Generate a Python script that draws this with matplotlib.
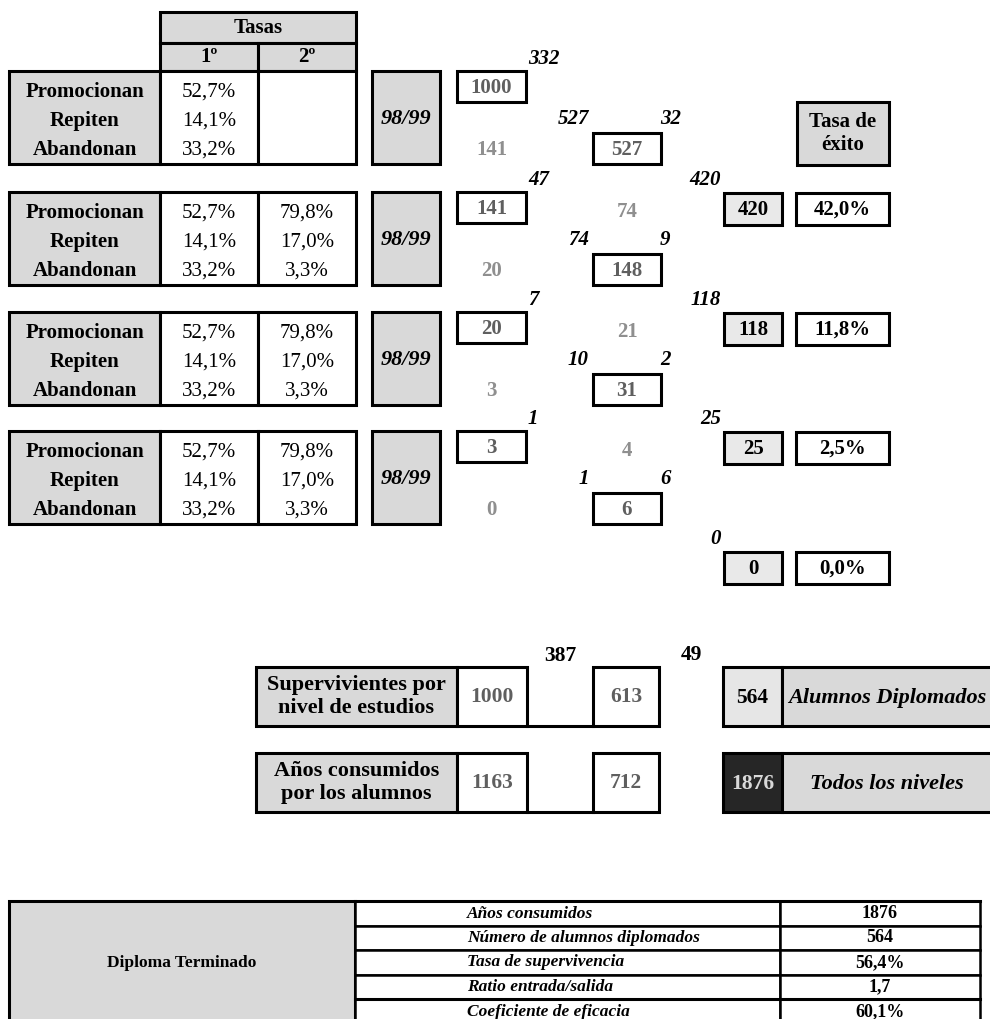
import matplotlib.pyplot as plt
from matplotlib.patches import Rectangle

plt.rcParams['font.family'] = ['Liberation Serif', 'DejaVu Serif']

# tasas por curso
rate_labels = ['Promocionan', 'Repiten', 'Abandonan']
rate_1 = ['52,7%', '14,1%', '33,2%']
rate_2 = ['79,8%', '17,0%', '3,3%']
cohort = '98/99'

# flujo de alumnos por bloque
box_a = [1000, 141, 20, 3]
grey_a = [141, 20, 3, 0]
box_b = [527, 148, 31, 6]
grey_b = [None, 74, 21, 4]
flow_top = [332, 47, 7, 1]
flow_mid_left = [527, 74, 10, 1]
flow_mid_right = [32, 9, 2, 6]
graduates = [420, 118, 25, 0]
success = ['42,0%', '11,8%', '2,5%', '0,0%']

# resumen
survivors = [1000, 613]
dropouts = [387, 49]
years_used = [1163, 712]
total_grad = 564
total_years = 1876
summary_labels = ['Años consumidos', 'Número de alumnos diplomados', 'Tasa de supervivencia',
                  'Ratio entrada/salida', 'Coeficiente de eficacia']
summary_values = ['1876', '564', '56,4%', '1,7', '60,1%']

GREY = '#d9d9d9'
LIGHT = '#e9e9e9'
DARKTXT = '#5f5f5f'
SOFTTXT = '#8f8f8f'
LW = 2.2
FS = 15

fig = plt.figure(figsize=(9.9, 10.19), dpi=100)
ax = fig.add_axes([0, 0, 1, 1])
ax.set_xlim(0, 990)
ax.set_ylim(1019, 0)
ax.axis('off')


def box(x0, y0, x1, y1, fc='white', lw=LW):
    ax.add_patch(Rectangle((x0, y0), x1 - x0, y1 - y0, fc=fc, ec='black', lw=lw))


def txt(x, y, s, size=FS, weight='bold', style='normal', color='black', ha='center', **kw):
    ax.text(x, y, s, fontsize=size, fontweight=weight, fontstyle=style, color=color,
            ha=ha, va='center', **kw)


# cabecera Tasas
box(160, 12, 356, 43, GREY)
box(160, 43, 258, 71, GREY)
box(258, 43, 356, 71, GREY)
txt(258, 28, 'Tasas')
txt(209, 57, '1º')
txt(307, 57, '2º')

tops = [71, 192, 312, 431, 551]
ah = 93

for i in range(4):
    T = tops[i]
    box(9, T, 160, T + ah, GREY)
    box(160, T, 258, T + ah)
    box(258, T, 356, T + ah)
    for r in range(3):
        y = T + 21 + 29 * r
        txt(84.5, y, rate_labels[r])
        txt(209, y, rate_1[r], weight='normal')
        if i > 0:
            txt(307, y, rate_2[r], weight='normal')

    box(372, T, 440, T + ah, GREY)
    txt(406, T + 48, cohort, size=16, style='italic')

    box(457, T, 526, T + 31)
    txt(491.5, T + 17, str(box_a[i]), color=DARKTXT)
    txt(491.5, T + 79, str(grey_a[i]), color=SOFTTXT)

    box(593, T + 62, 661, T + 93)
    txt(627, T + 79, str(box_b[i]), color=DARKTXT)
    if grey_b[i] is not None:
        txt(627, T + 20, str(grey_b[i]), color=SOFTTXT)

    txt(528, T - 12, str(flow_top[i]), style='italic', ha='left')
    txt(589, T + 48, str(flow_mid_left[i]), style='italic', ha='right')
    txt(660, T + 48, str(flow_mid_right[i]), style='italic', ha='left')

for i in range(4):
    T = tops[i + 1]
    txt(721, T - 12, str(graduates[i]), style='italic', ha='right')
    box(724, T + 1, 782, T + 33, LIGHT)
    txt(753, T + 18, str(graduates[i]))
    box(796, T + 1, 889, T + 33)
    txt(842.5, T + 18, success[i])

box(797, 102, 889, 165, GREY)
txt(843, 133, 'Tasa de\néxito', linespacing=1.2)

# supervivientes y años consumidos
rows_y = [(667, 726), (753, 812)]
row_labels = ['Supervivientes por\nnivel de estudios', 'Años consumidos\npor los alumnos']
row_vals = [survivors, years_used]
for k in range(2):
    y0, y1 = rows_y[k]
    yc = (y0 + y1) / 2
    box(256, y0, 457, y1, GREY)
    box(457, y0, 527, y1)
    ax.plot([527, 593], [y1, y1], color='black', lw=LW)
    box(593, y0, 659, y1)
    txt(356.5, yc, row_labels[k], size=16, linespacing=1.25)
    txt(492, yc + 1, str(row_vals[k][0]), size=15.5, color=DARKTXT)
    txt(626, yc + 1, str(row_vals[k][1]), size=15.5, color=DARKTXT)

txt(560, 656, str(dropouts[0]), size=15.5)
txt(691, 655, str(dropouts[1]), size=15.5)

box(723, 667, 782, 726, '#e6e6e6')
box(782, 667, 1000, 726, GREY)
txt(752.5, 698, str(total_grad), size=15.5)
txt(887, 698, 'Alumnos Diplomados', size=16, style='italic')

box(723, 753, 782, 812, '#262626')
box(782, 753, 1000, 812, GREY)
txt(752.5, 784, str(total_years), size=15.5, color=GREY)
txt(887, 784, 'Todos los niveles', size=16, style='italic')

# tabla final
rh = 24.5
box(9, 901, 355, 1030, GREY)
txt(182, 963, 'Diploma Terminado', size=12.5)
for r in range(len(summary_labels)):
    y0 = 901 + rh * r
    box(355, y0, 780, y0 + rh, lw=1.8)
    box(780, y0, 980, y0 + rh, lw=1.8)
    txt(467, y0 + 12.5, summary_labels[r], size=12.5, style='italic', ha='left')
    txt(880, y0 + 12.5, summary_values[r], size=13)
ax.plot([355, 980], [901, 901], color='black', lw=LW)
ax.plot([355, 980], [901 + 4 * rh, 901 + 4 * rh], color='black', lw=LW)

fig.savefig('out.png', dpi=100)
